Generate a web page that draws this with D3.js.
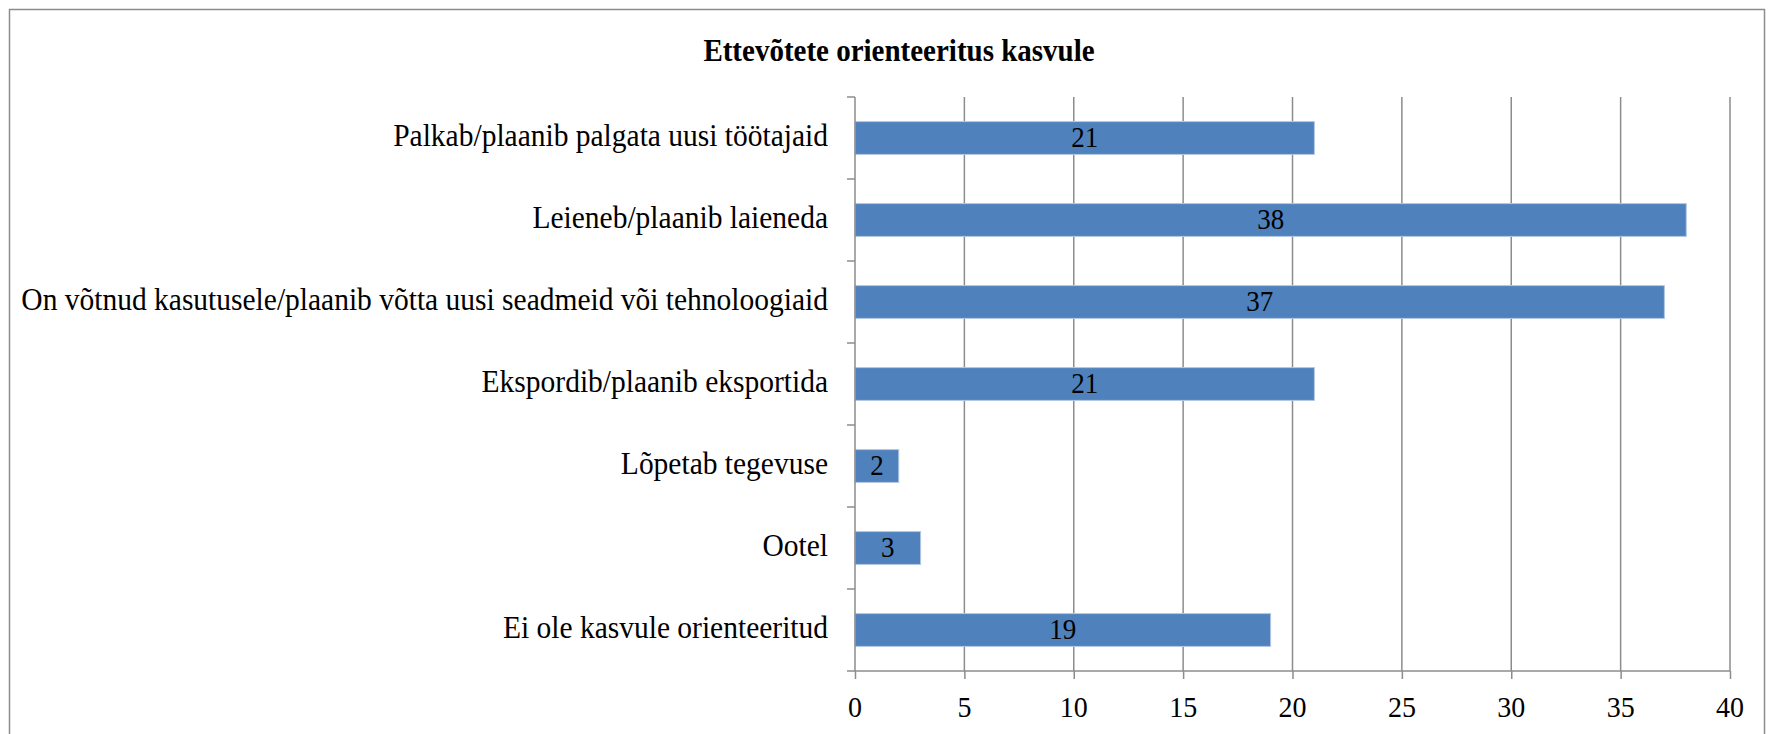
<!DOCTYPE html>
<html>
<head>
<meta charset="utf-8">
<script src="https://cdn.jsdelivr.net/npm/d3@7"></script>
<style>
  body { margin: 0; background: #fff; }
  svg { display: block; }
</style>
</head>
<body>
<div id="chart"></div>
<script>
// andmed
const categories = [
    "Palkab/plaanib palgata uusi töötajaid",
    "Leieneb/plaanib laieneda",
    "On võtnud kasutusele/plaanib võtta uusi seadmeid või tehnoloogiaid",
    "Ekspordib/plaanib eksportida",
    "Lõpetab tegevuse",
    "Ootel",
    "Ei ole kasvule orienteeritud"
];
const values = [21, 38, 37, 21, 2, 3, 19];
const xTicks = [0, 5, 10, 15, 20, 25, 30, 35, 40];
const title = "Ettevõtete orienteeritus kasvule";

const width = 1771,
    height = 734,
    margin = { top: 97, right: 41, bottom: 63, left: 855 };

const gridColor = "#8c8c8c";

const svg = d3.select("#chart")
    .append("svg")
    .attr("width", width)
    .attr("height", height);

// tekst veidi kõrgemaks venitatud nagu originaalis
function addText(parent, x, y, size, str, anchor, weight) {
    const t = parent.append("text")
        .attr("transform", "translate(" + x + "," + y + ") scale(1,1.08)")
        .attr("text-anchor", anchor || "middle")
        .style("font-family", "'Liberation Serif'")
        .style("font-size", size + "px")
        .style("fill", "#000")
        .text(str);
    if (weight) t.style("font-weight", weight);
    return t;
}

// kader
svg.append("rect")
    .attr("x", 9.5)
    .attr("y", 9.5)
    .attr("width", 1755)
    .attr("height", 760)
    .attr("fill", "none")
    .attr("stroke", gridColor)
    .attr("stroke-width", 1.5);

// pealkiri
addText(svg, 899, 61, 29, title, "middle", "bold");

const x = d3.scaleLinear()
    .domain([0, 40])
    .range([margin.left, width - margin.right]);

const y = d3.scaleBand()
    .domain(categories)
    .range([margin.top, height - margin.bottom])
    .paddingInner(0.6)
    .paddingOuter(0.3);

const plotTop = margin.top, plotBottom = height - margin.bottom;

// ruudustik
svg.append("g")
    .selectAll("line")
    .data(xTicks.slice(1))
    .enter()
    .append("line")
    .attr("x1", d => x(d))
    .attr("x2", d => x(d))
    .attr("y1", plotTop)
    .attr("y2", plotBottom)
    .attr("stroke", gridColor)
    .attr("stroke-width", 1.5);

// tulbad
svg.append("g")
    .selectAll("rect")
    .data(values)
    .enter()
    .append("rect")
    .attr("x", x(0))
    .attr("y", (d, i) => y(categories[i]))
    .attr("width", d => x(d) - x(0))
    .attr("height", y.bandwidth())
    .attr("fill", "#4f81bd")
    .attr("stroke", "#b3c7e2")
    .attr("stroke-width", 1);

// väärtused tulpade keskel
const valueG = svg.append("g");
values.forEach((v, i) => {
    addText(valueG, (x(0) + x(v)) / 2, y(categories[i]) + y.bandwidth() / 2 + 9, 27, v);
});

// x telg
const xAxis = svg.append("g")
    .attr("transform", "translate(0," + plotBottom + ")")
    .call(d3.axisBottom(x).tickValues(xTicks).tickSize(8).tickFormat(""));
xAxis.select(".domain").attr("stroke", gridColor).attr("stroke-width", 1.5)
    .attr("d", "M" + (x(0) - 8) + ",0H" + x(40));
xAxis.selectAll(".tick line").attr("stroke", gridColor).attr("stroke-width", 1.5);

const tickG = svg.append("g");
xTicks.forEach(t => {
    addText(tickG, x(t), plotBottom + 46, 28, t);
});

// y telg
svg.append("line")
    .attr("x1", x(0)).attr("x2", x(0))
    .attr("y1", plotTop).attr("y2", plotBottom)
    .attr("stroke", gridColor).attr("stroke-width", 1.5);

svg.append("g")
    .selectAll("line")
    .data(d3.range(categories.length))
    .enter()
    .append("line")
    .attr("x1", x(0) - 8)
    .attr("x2", x(0))
    .attr("y1", i => plotTop + i * (plotBottom - plotTop) / categories.length)
    .attr("y2", i => plotTop + i * (plotBottom - plotTop) / categories.length)
    .attr("stroke", gridColor)
    .attr("stroke-width", 1.5);

// kategooriate nimed
const catG = svg.append("g");
categories.forEach(c => {
    addText(catG, x(0) - 27, y(c) + y.bandwidth() / 2 + 8, 29.5, c, "end");
});
</script>
</body>
</html>
